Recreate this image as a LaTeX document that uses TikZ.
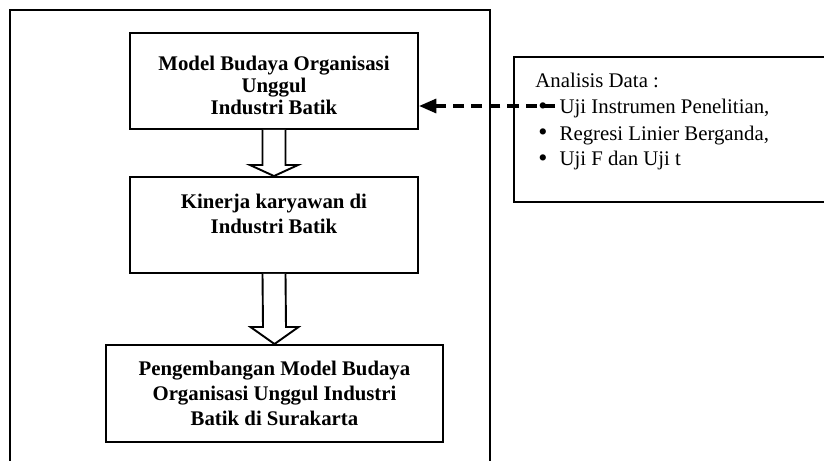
\documentclass[tikz,border=0pt]{standalone}
\usepackage{fontspec}
\setmainfont{Liberation Serif}
\usetikzlibrary{arrows.meta,calc}
\newcommand{\bigbul}{\makebox[12.3pt][l]{\raisebox{-0.3pt}{\fontsize{15}{15}\selectfont\textbullet}}}
\begin{document}
\begin{tikzpicture}[x=0.577pt,y=-0.577pt,
  frame/.style={line width=1.6pt},
  box/.style={draw,line width=1.1pt,inner sep=0pt},
  boxtext/.style={font=\fontsize{12}{#1}\selectfont\bfseries,align=center,inner sep=0pt},
  listtext/.style={font=\fontsize{12}{14}\selectfont,anchor=base west,inner sep=0pt},
  blockarrow/.style={draw,line width=1.1pt,fill=white,line join=miter},
  dasharrow/.style={line width=2pt,dash pattern=on 6.5pt off 4pt,-{Triangle[length=10pt,width=8pt]}}]
\useasboundingbox (0,0) rectangle (824,461);
% outer frame (open at the bottom)
\draw[frame] (10,461) -- (10,10) -- (490,10) -- (490,461);
% boxes
\node[box,minimum width=166.2pt,minimum height=55.4pt] (b1) at (274,81) {};
\node[box,minimum width=166.2pt,minimum height=55.4pt] (b2) at (274,225) {};
\node[box,minimum width=194.4pt,minimum height=56pt] (b3) at (274.5,393.5) {};
\node[box,minimum width=183pt,minimum height=83.7pt] (rb) at (673,129.5) {};
% box texts
\node[boxtext=12.7pt] (t1) at (274,85) {Model Budaya Organisasi\\Unggul\\Industri Batik};
\node[boxtext=14.4pt] (t2) at (274,213.5) {Kinerja karyawan di\\Industri Batik};
\node[boxtext=14.4pt] (t3) at (274.5,393) {Pengembangan Model Budaya\\Organisasi Unggul Industri\\Batik di Surakarta};
% list
\node[listtext] (h) at (535,88) {Analisis Data :};
\node[listtext] (l1) at (538,114) {\bigbul Uji Instrumen Penelitian,};
\node[listtext] (l2) at (538,140) {\bigbul Regresi Linier Berganda,};
\node[listtext] (l3) at (538,165.5) {\bigbul Uji F dan Uji t};
% block arrows
\draw[blockarrow] ($(b1.south)+(-11.5,0)$) -- ($(b2.north)+(-11.5,-11)$) -- ($(b2.north)+(-24,-11)$) -- (b2.north) -- ($(b2.north)+(24,-11)$) -- ($(b2.north)+(11.5,-11)$) -- ($(b1.south)+(11.5,0)$);
\draw[blockarrow] ($(b2.south)+(-11.5,0)$) -- ($(b3.north)+(-11.5,-17)$) -- ($(b3.north)+(-24,-17)$) -- (b3.north) -- ($(b3.north)+(24,-17)$) -- ($(b3.north)+(11.5,-17)$) -- ($(b2.south)+(11.5,0)$);
% dashed arrow
\coordinate (ds) at (555,106);
\draw[dasharrow] (ds) -- (ds -| b1.east);
\end{tikzpicture}
\end{document}
